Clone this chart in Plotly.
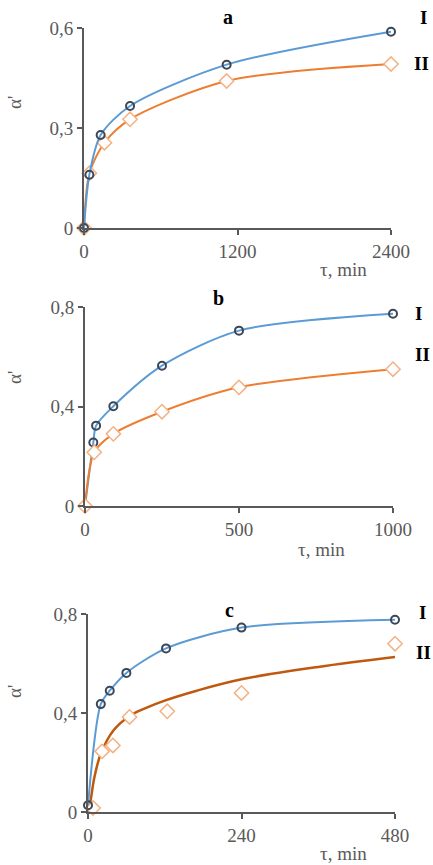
import plotly.graph_objects as go

# ---- panel a ----
a_t_I = [0, 42, 130, 360, 1115, 2400]
a_v_I = [0, 0.16, 0.279, 0.366, 0.490, 0.589]
a_t_II = [0, 42, 160, 360, 1115, 2400]
a_v_II = [0, 0.164, 0.256, 0.326, 0.441, 0.492]
a_xticks = [0, 1200, 2400]
a_yticks = [0, 0.3, 0.6]
a_ylabels = ["0", "0,3", "0,6"]

# ---- panel b ----
b_t_I = [0, 27, 36, 92, 250, 500, 1000]
b_v_I = [0, 0.255, 0.323, 0.401, 0.564, 0.705, 0.773]
b_t_II = [0, 30, 92, 250, 500, 1000]
b_v_II = [0, 0.216, 0.290, 0.379, 0.477, 0.550]
b_xticks = [0, 500, 1000]
b_yticks = [0, 0.4, 0.8]
b_ylabels = ["0", "0,4", "0,8"]

# ---- panel c ----
c_t_I = [0, 20, 34, 60, 122, 240, 480]
c_v_I = [0.027, 0.436, 0.490, 0.562, 0.661, 0.745, 0.777]
c_t_II = [8, 22, 39, 65, 124, 240, 480]
c_v_II = [0.016, 0.245, 0.269, 0.384, 0.407, 0.481, 0.680]
c_fit_t = [0, 3, 10, 20, 40, 65, 90, 120, 170, 240, 360, 480]
c_fit_v = [0, 0.03, 0.14, 0.235, 0.33, 0.388, 0.42, 0.45, 0.49, 0.536, 0.586, 0.626]
c_xticks = [0, 240, 480]
c_yticks = [0, 0.4, 0.8]
c_ylabels = ["0", "0,4", "0,8"]

W, H = 433, 865
BLUE = "#5B9BD5"
ORANGE = "#ED7D31"
DARK_ORANGE = "#C0590F"
CIRCLE_EDGE = "#3B4656"
DIAMOND_EDGE = "#F4B183"
AXIS = "#595959"
SERIF = "Liberation Serif, Times New Roman, serif"

fig = go.Figure()


def circles(t, v, ax, line=True):
    fig.add_trace(go.Scatter(
        x=t, y=v, xaxis="x" + ax, yaxis="y" + ax,
        mode="lines+markers" if line else "markers",
        line=dict(color=BLUE, width=2, shape="spline", smoothing=0.8),
        marker=dict(symbol="circle-open", size=8, color=CIRCLE_EDGE,
                    line=dict(width=2, color=CIRCLE_EDGE)),
        cliponaxis=False, showlegend=False, hoverinfo="x+y"))


def diamonds(t, v, ax, line=True):
    fig.add_trace(go.Scatter(
        x=t, y=v, xaxis="x" + ax, yaxis="y" + ax,
        mode="lines+markers" if line else "markers",
        line=dict(color=ORANGE, width=2, shape="spline", smoothing=0.8),
        marker=dict(symbol="diamond", size=11, color="white",
                    line=dict(width=1.5, color=DIAMOND_EDGE)),
        cliponaxis=False, showlegend=False, hoverinfo="x+y"))


# panel a
diamonds(a_t_II, a_v_II, "")
circles(a_t_I, a_v_I, "")
# panel b
circles(b_t_I, b_v_I, "2")
diamonds(b_t_II, b_v_II, "2")
# panel c
fig.add_trace(go.Scatter(
    x=c_fit_t, y=c_fit_v, xaxis="x3", yaxis="y3", mode="lines",
    line=dict(color=DARK_ORANGE, width=2.5, shape="spline", smoothing=1.0),
    cliponaxis=False, showlegend=False, hoverinfo="skip"))
diamonds(c_t_II, c_v_II, "3", line=False)
circles(c_t_I, c_v_I, "3")


def px_dom(lo, hi, total, flip=False):
    if flip:
        return [1 - hi / total, 1 - lo / total]
    return [lo / total, hi / total]


tickfont = dict(family=SERIF, size=19, color=AXIS)


def xaxis(dom, rng, ticks, anchor):
    return dict(domain=dom, range=rng, tickvals=ticks,
                ticktext=[str(t) for t in ticks], anchor=anchor,
                automargin=False,
                showgrid=False, zeroline=False, showline=True,
                linecolor=AXIS, linewidth=2, ticks="outside",
                ticklen=5, tickwidth=1.5, tickcolor=AXIS, tickfont=tickfont)


def yaxis(dom, rng, ticks, labels, anchor):
    return dict(domain=dom, range=rng, tickvals=ticks, ticktext=labels,
                anchor=anchor, automargin=False,
                showgrid=False, zeroline=False, showline=True,
                linecolor=AXIS, linewidth=2, ticks="outside",
                ticklen=5, tickwidth=1.5, tickcolor=AXIS, tickfont=tickfont)


fig.update_layout(
    width=W, height=H, margin=dict(l=0, r=0, t=0, b=0),
    paper_bgcolor="white", plot_bgcolor="white",
    xaxis=xaxis(px_dom(84, 391, W), [0, 2400], a_xticks, "y"),
    yaxis=yaxis(px_dom(28, 228, H, True), [0, 0.6], a_yticks, a_ylabels, "x"),
    xaxis2=xaxis(px_dom(85, 393, W), [0, 1000], b_xticks, "y2"),
    yaxis2=yaxis(px_dom(307, 506, H, True), [0, 0.8], b_yticks, b_ylabels, "x2"),
    xaxis3=xaxis(px_dom(88, 395, W), [0, 480], c_xticks, "y3"),
    yaxis3=yaxis(px_dom(614, 812, H, True), [0, 0.8], c_yticks, c_ylabels, "x3"),
)


def label(text, x, y, size=19, bold=False, color="black", angle=0):
    fig.add_annotation(
        text="<b>%s</b>" % text if bold else text,
        x=x / W, y=1 - y / H, xref="paper", yref="paper",
        xanchor="center", yanchor="middle", showarrow=False,
        textangle=angle, font=dict(family=SERIF, size=size, color=color))


# panel letters and curve names
for txt, x, y in [("a", 228, 17), ("b", 218, 298), ("c", 230, 610)]:
    label(txt, x, y, size=20, bold=True)
for txt, x, y in [("I", 423, 17), ("II", 421, 64),
                  ("I", 418, 314), ("II", 422, 355),
                  ("I", 422, 612), ("II", 423, 652)]:
    label(txt, x, y, size=19, bold=True)
# axis titles
for x, y in [(343, 269), (321, 549), (343, 853)]:
    label("τ, min", x, y, size=19, color=AXIS)
for y in [103, 378, 692]:
    label("α'", 14, y, size=19, color=AXIS, angle=-90)

fig.write_html("out.html")
